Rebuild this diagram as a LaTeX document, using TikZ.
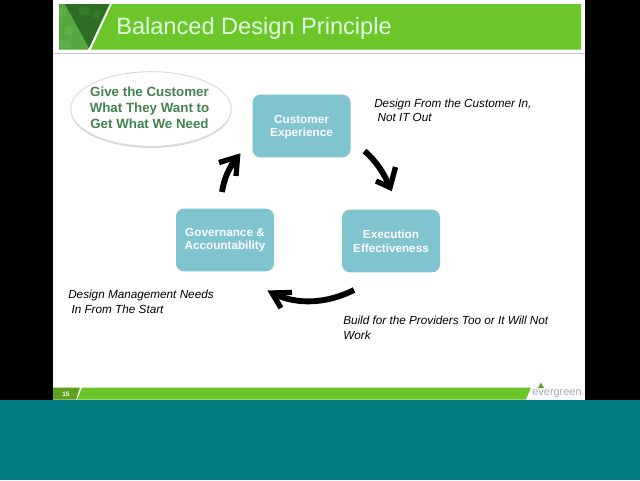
\documentclass[tikz,border=0pt]{standalone}
\usepackage{fontspec}
\setmainfont{Liberation Sans}
\usetikzlibrary{arrows.meta,shadows,calc,shapes.geometric}
\definecolor{barGreen}{HTML}{6CC62A}
\definecolor{chipGreen}{HTML}{5FA01F}
\definecolor{logoDark}{HTML}{2E6E24}
\definecolor{logoMid}{HTML}{367A2A}
\definecolor{logoLight}{HTML}{55A83F}
\definecolor{logoPale}{HTML}{60AF47}
\definecolor{tealBand}{HTML}{007C80}
\definecolor{boxTeal}{HTML}{7FC4CF}
\definecolor{calloutText}{HTML}{44824F}
\definecolor{brandGrey}{HTML}{A4A8BC}
\tikzset{
  x=0.75pt,y=-0.75pt,
  stagebox/.style={draw=none,fill=boxTeal,rounded corners=6pt,minimum width=73.5pt,minimum height=47pt,inner sep=0pt},
  stagelabel/.style={text=white,font=\bfseries\fontsize{8.8}{10.2}\selectfont,align=center,inner sep=0pt},
  remark/.style={font=\itshape\fontsize{8.8}{11}\selectfont,align=left,anchor=north west,inner sep=0pt,text=black},
  flow/.style={line width=4.4pt,draw=black},
  flowhead/.style={line width=4pt,draw=black,miter limit=10},
}
\begin{document}
\begin{tikzpicture}
\useasboundingbox (0,0) rectangle (640,480);
% stage
\fill[black] (0,0) rectangle (640,480);
\fill[white] (53,0) rectangle (585,400);
\fill[tealBand] (0,400) rectangle (640,480);
% header
\fill[barGreen] (112,4) -- (581,4) -- (581,49.5) -- (91,49.5) -- cycle;
\fill[logoLight] (59,4) -- (110,4) -- (88,49.5) -- (59,49.5) -- cycle;
\fill[logoPale] (59,9) -- (65,8) -- (67,16) -- (59,17) -- cycle;
\fill[logoPale] (66,26) -- (74,28) -- (72,36) -- (64,33) -- cycle;
\fill[logoPale] (60,40) -- (70,41) -- (72,48) -- (60,48) -- cycle;
\fill[logoDark] (65,4) -- (109,4) -- (89,48) -- cycle;
\fill[logoMid] (78,8) -- (88,6) -- (90,14) -- (80,16) -- cycle;
\fill[logoMid] (94,12) -- (101,10) -- (99,18) -- (93,18) -- cycle;
\draw[black!22,line width=0.9pt] (53,53.5) -- (585,53.5);
\node[anchor=west,inner sep=0pt,text=white!88!green,font=\fontsize{17.7}{20}\selectfont] (title) at (116,28) {Balanced Design Principle};
% footer
\fill[barGreen] (82,387.5) -- (531,387.5) -- (526,399.5) -- (77,399.5) -- cycle;
\fill[chipGreen] (53,387.5) -- (80,387.5) -- (76,399.5) -- (53,399.5) -- cycle;
\node[text=white,font=\bfseries\fontsize{4.8}{5}\selectfont,inner sep=0pt] (page) at (66,394) {15};
\fill[chipGreen] (541,382.5) -- (544,388) -- (538,388) -- cycle;
\node[text=brandGrey,font=\fontsize{8.2}{9}\selectfont,inner sep=0pt] (brand) at (557,394) {evergreen};
% callout
\node[draw=black!15,fill=white,ellipse,minimum width=120.5pt,minimum height=56pt,inner sep=0pt,
  drop shadow={shadow xshift=0pt,shadow yshift=-1.2pt,fill=black!30,opacity=.5},
  line width=0.7pt] (callout) at (151,109) {};
\node[text=calloutText,font=\bfseries\fontsize{10}{12}\selectfont,align=center,inner sep=0pt] (calloutlabel) at (149.5,107.5)
  {Give the Customer\\What They Want to\\Get What We Need};
% stages
\node[stagebox] (cx) at (301.5,126) {};
\node[stagebox] (ee) at (391,241) {};
\node[stagebox] (ga) at (225,240) {};
\node[stagelabel] (cxl) at ($(cx.center)+(0,1)$) {Customer\\Experience};
\node[stagelabel] (eel) at ($(ee.center)+(0,0.5)$) {Execution\\Effectiveness};
\node[stagelabel] (gal) at ($(ga.center)+(0,0)$) {Governance \&\\Accountability};
% flow arrows: curved shaft, then a barbed head
\coordinate (a1s) at (364.5,151);
\coordinate (a1v) at (390,187.5);
\coordinate (a1l) at (395.5,167);
\coordinate (a1r) at (376,181);
\coordinate (a2s) at (354,290);
\coordinate (a2v) at (272,293);
\coordinate (a2l) at (292,292.5);
\coordinate (a2r) at (281,308);
\coordinate (a3s) at (222,192);
\coordinate (a3v) at (237.5,157);
\coordinate (a3l) at (219,162.5);
\coordinate (a3r) at (236,176);
\draw[flow] (a1s) .. controls (376,161) and (384,173) .. (a1v);
\draw[flowhead] (a1l) -- (a1v) -- (a1r);
\draw[flow] (a2s) .. controls (328,303) and (298,306) .. (a2v);
\draw[flowhead] (a2l) -- (a2v) -- (a2r);
\draw[flow] (a3s) .. controls (224,179) and (229,167) .. (a3v);
\draw[flowhead] (a3l) -- (a3v) -- (a3r);
% remarks
\node[remark] (r1) at (374,98.5) {Design From the Customer In,\\\ Not IT Out};
\node[remark] (r2) at (343,316) {Build for the Providers Too or It Will Not\\Work};
\node[remark] (r3) at (68,290) {Design Management Needs\\\ In From The Start};
\end{tikzpicture}
\end{document}
